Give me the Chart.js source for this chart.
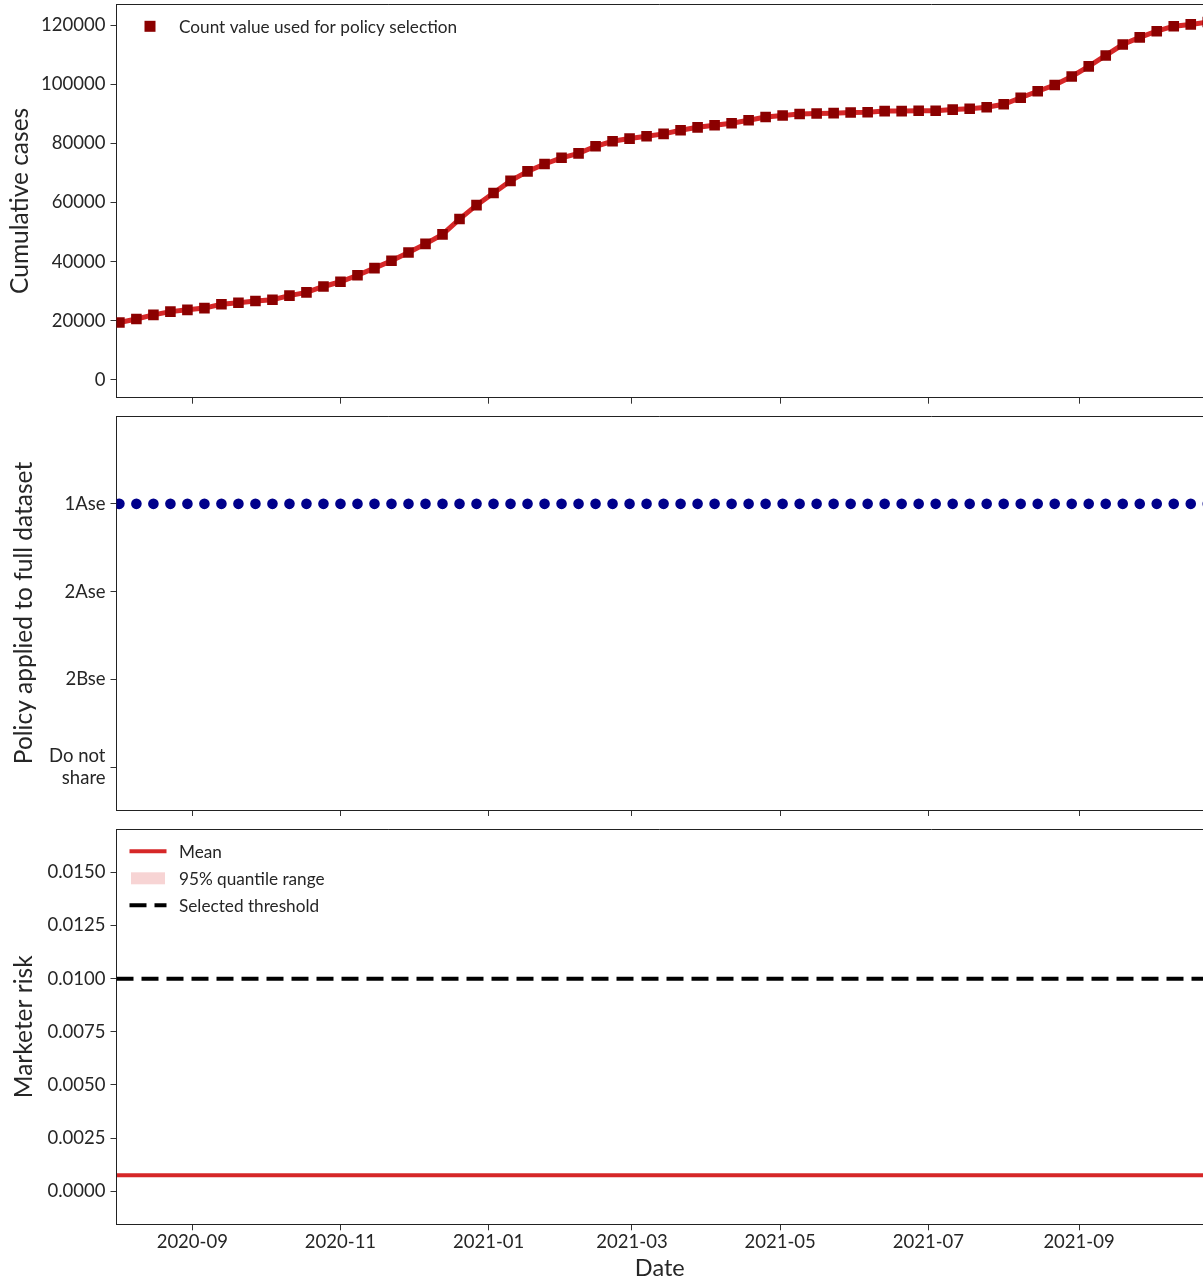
<!DOCTYPE html>
<html>
<head>
<meta charset="utf-8">
<title>Cumulative cases, applied policy and marketer risk</title>
<script src="https://cdn.jsdelivr.net/npm/chart.js@4.4.0/dist/chart.umd.min.js"></script>
<style>
  html, body { margin: 0; padding: 0; background: #ffffff; overflow: hidden; }
  .panel { position: absolute; left: 0; width: 1203px; }
  canvas { display: block; }
</style>
</head>
<body>
<div class="panel" style="top:0;height:412px"><canvas id="cases" width="1203" height="412"></canvas></div>
<div class="panel" style="top:412px;height:408px"><canvas id="policy" width="1203" height="408"></canvas></div>
<div class="panel" style="top:820px;height:463px"><canvas id="risk" width="1203" height="463"></canvas></div>
<script>
// ---- data ----------------------------------------------------------------
// Weekly evaluation dates
const weekDates = [
  '2020-08-02', '2020-08-09', '2020-08-16', '2020-08-23', '2020-08-30',
  '2020-09-06', '2020-09-13', '2020-09-20', '2020-09-27', '2020-10-04',
  '2020-10-11', '2020-10-18', '2020-10-25', '2020-11-01', '2020-11-08',
  '2020-11-15', '2020-11-22', '2020-11-29', '2020-12-06', '2020-12-13',
  '2020-12-20', '2020-12-27', '2021-01-03', '2021-01-10', '2021-01-17',
  '2021-01-24', '2021-01-31', '2021-02-07', '2021-02-14', '2021-02-21',
  '2021-02-28', '2021-03-07', '2021-03-14', '2021-03-21', '2021-03-28',
  '2021-04-04', '2021-04-11', '2021-04-18', '2021-04-25', '2021-05-02',
  '2021-05-09', '2021-05-16', '2021-05-23', '2021-05-30', '2021-06-06',
  '2021-06-13', '2021-06-20', '2021-06-27', '2021-07-04', '2021-07-11',
  '2021-07-18', '2021-07-25', '2021-08-01', '2021-08-08', '2021-08-15',
  '2021-08-22', '2021-08-29', '2021-09-05', '2021-09-12', '2021-09-19',
  '2021-09-26', '2021-10-03', '2021-10-10', '2021-10-17', '2021-10-24'
];

// Cumulative case count on each weekly date
const cumulativeCases = [
  19400, 20600, 22000, 23100, 23700, 24300, 25600, 26100, 26700, 27100,
  28500, 29600, 31600, 33200, 35400, 37800, 40300, 43100, 46000, 49200,
  54400, 59100, 63200, 67300, 70500, 73000, 75100, 76600, 79000, 80700,
  81600, 82400, 83200, 84400, 85400, 86100, 86800, 87800, 88900, 89400,
  89900, 90100, 90200, 90400, 90500, 90900, 90900, 91000, 91000, 91400,
  91700, 92200, 93200, 95400, 97600, 99700, 102600, 106000, 109700, 113400,
  115800, 117900, 119600, 120200, 121000
];

// Policy chosen for the full dataset on each weekly date
const appliedPolicy = [
  '1Ase', '1Ase', '1Ase', '1Ase', '1Ase', '1Ase', '1Ase', '1Ase', '1Ase', '1Ase',
  '1Ase', '1Ase', '1Ase', '1Ase', '1Ase', '1Ase', '1Ase', '1Ase', '1Ase', '1Ase',
  '1Ase', '1Ase', '1Ase', '1Ase', '1Ase', '1Ase', '1Ase', '1Ase', '1Ase', '1Ase',
  '1Ase', '1Ase', '1Ase', '1Ase', '1Ase', '1Ase', '1Ase', '1Ase', '1Ase', '1Ase',
  '1Ase', '1Ase', '1Ase', '1Ase', '1Ase', '1Ase', '1Ase', '1Ase', '1Ase', '1Ase',
  '1Ase', '1Ase', '1Ase', '1Ase', '1Ase', '1Ase', '1Ase', '1Ase', '1Ase', '1Ase',
  '1Ase', '1Ase', '1Ase', '1Ase', '1Ase'
];

// Policy levels, bottom to top
const policyLevels = ['Do not share', '2Bse', '2Ase', '1Ase'];

// Marketer risk: mean and 95% quantile range, plus the selected threshold
const riskDates = ['2020-08-01', '2021-10-24'];
const riskMean  = [0.00075, 0.00075];
const riskLow   = [0.00070, 0.00070];
const riskHigh  = [0.00080, 0.00080];
const riskThreshold = 0.01;

// Tick labels
const monthTicks = ['2020-09-01', '2020-11-01', '2021-01-01', '2021-03-01',
                    '2021-05-01', '2021-07-01', '2021-09-01'];
const caseTicks = [0, 20000, 40000, 60000, 80000, 100000, 120000];
const riskTicks = [0, 0.0025, 0.005, 0.0075, 0.01, 0.0125, 0.015];

// Visible date window
const axisStart = '2020-07-31T19:20:00';
const axisEnd   = '2021-10-22T01:00:00';

// ---- helpers ---------------------------------------------------------------
const FONT = 'Lato, "Open Sans", sans-serif';
const INK = '#262626';
const TICK_SIZE = 18.5;
const TITLE_SIZE = 24.5;
const LEGEND_SIZE = 17.2;
const toTime = s => Date.parse(s.length === 10 ? s + 'T00:00:00Z' : s + 'Z');
const pad2 = n => String(n).padStart(2, '0');
const monthLabel = v => { const d = new Date(v); return d.getUTCFullYear() + '-' + pad2(d.getUTCMonth() + 1); };

const AXIS_WIDTH = 116.5;

// keep the plotting area exactly where the axis boxes put it
function noScalePadding(ax) {
  ax.paddingTop = 0; ax.paddingBottom = 0; ax.paddingLeft = 0; ax.paddingRight = 0;
}

function dateAxis(showLabels, height) {
  return {
    type: 'linear',
    position: 'bottom',
    min: toTime(axisStart),
    max: toTime(axisEnd),
    afterBuildTicks: ax => { ax.ticks = monthTicks.map(d => ({ value: toTime(d) })); },
    afterFit: ax => { ax.height = height; noScalePadding(ax); },
    ticks: {
      display: showLabels,
      autoSkip: false,
      maxRotation: 0,
      padding: 1,
      color: INK,
      font: { family: FONT, size: TICK_SIZE },
      callback: v => monthLabel(v)
    },
    grid: { display: true, drawOnChartArea: false, drawTicks: true, tickLength: 6, tickColor: '#333', tickWidth: 1 },
    border: { display: true, color: '#222', width: 1 },
    title: {
      display: showLabels,
      text: 'Date',
      color: INK,
      font: { family: FONT, size: 23.5 },
      padding: 0
    }
  };
}

function valueAxis({ min, max, ticks, format, title, titlePad }) {
  return {
    type: 'linear',
    position: 'left',
    min, max,
    afterBuildTicks: ax => { ax.ticks = ticks.map(v => ({ value: v })); },
    afterFit: ax => { ax.width = AXIS_WIDTH; noScalePadding(ax); },
    ticks: { autoSkip: false, padding: 5, color: INK, font: { family: FONT, size: TICK_SIZE }, callback: format },
    grid: { display: true, drawOnChartArea: false, drawTicks: true, tickLength: 6, tickColor: '#333', tickWidth: 1 },
    border: { display: true, color: '#222', width: 1 },
    title: {
      display: true,
      text: title,
      color: INK,
      font: { family: FONT, size: TITLE_SIZE },
      padding: { top: titlePad, bottom: 0 }
    }
  };
}

// Top edge of each panel frame
const frameTop = {
  id: 'frameTop',
  afterDraw(chart) {
    const { ctx, chartArea } = chart;
    ctx.save();
    ctx.strokeStyle = '#222';
    ctx.lineWidth = 1;
    ctx.beginPath();
    const y = Math.floor(chartArea.top) + 0.5;
    ctx.moveTo(chartArea.left, y);
    ctx.lineTo(chartArea.right, y);
    ctx.stroke();
    ctx.restore();
  }
};

// Legend drawn inside the plotting area (upper left)
const insetLegend = {
  id: 'insetLegend',
  afterDraw(chart, args, opts) {
    if (!opts || !opts.items) return;
    const { ctx, chartArea } = chart;
    ctx.save();
    ctx.font = LEGEND_SIZE + 'px ' + FONT;
    ctx.textBaseline = 'middle';
    ctx.textAlign = 'left';
    opts.items.forEach((it, k) => {
      const y = chartArea.top + opts.top + k * opts.rowGap;
      const x0 = chartArea.left + opts.left;
      const w = opts.sampleWidth;
      if (it.kind === 'square') {
        ctx.fillStyle = it.color;
        ctx.fillRect(x0 + w / 2 - it.size / 2, y - it.size / 2, it.size, it.size);
      } else if (it.kind === 'line') {
        ctx.strokeStyle = it.color;
        ctx.lineWidth = it.width;
        ctx.setLineDash(it.dash || []);
        ctx.beginPath();
        ctx.moveTo(x0, y);
        ctx.lineTo(x0 + w, y);
        ctx.stroke();
        ctx.setLineDash([]);
      } else if (it.kind === 'band') {
        ctx.fillStyle = it.color;
        ctx.fillRect(x0 + 1.5, y - 6, w - 3, 12);
      }
      ctx.fillStyle = INK;
      ctx.fillText(it.text, chartArea.left + opts.textLeft, y + 1);
    });
    ctx.restore();
  }
};

const baseOptions = {
  responsive: false,
  animation: false,
  events: [],
  plugins: { legend: { display: false }, tooltip: { enabled: false } }
};

// ---- panel 1: cumulative cases ---------------------------------------------
const casePoints = weekDates.map((d, i) => ({ x: toTime(d), y: cumulativeCases[i] }));

new Chart(document.getElementById('cases'), {
  type: 'scatter',
  data: {
    datasets: [
      {
        label: 'Count value used for policy selection',
        data: casePoints,
        showLine: false,
        pointStyle: 'rect',
        pointRadius: 7.5,
        pointBorderWidth: 0,
        pointBackgroundColor: '#8b0000',
        clip: 0,
        order: 0
      },
      {
        label: 'Cumulative cases',
        data: casePoints,
        showLine: true,
        borderColor: '#d62728',
        borderWidth: 5,
        pointRadius: 0,
        tension: 0,
        clip: 0,
        order: 1
      }
    ]
  },
  options: {
    ...baseOptions,
    layout: { autoPadding: false, padding: { top: 4, left: 0, right: 0, bottom: 0 } },
    scales: {
      x: dateAxis(false, 14.3),
      y: valueAxis({ min: -6000, max: 127100, ticks: caseTicks, format: v => String(v), title: 'Cumulative cases', titlePad: 5 })
    },
    plugins: {
      ...baseOptions.plugins,
      insetLegend: {
        top: 22.3, left: 16, rowGap: 0, sampleWidth: 35, textLeft: 62.5,
        items: [{ kind: 'square', color: '#8b0000', size: 11, text: 'Count value used for policy selection' }]
      }
    }
  },
  plugins: [frameTop, insetLegend]
});

// ---- panel 2: applied policy -----------------------------------------------
const policyPoints = weekDates.map((d, i) => ({ x: toTime(d), y: policyLevels.indexOf(appliedPolicy[i]) }));

new Chart(document.getElementById('policy'), {
  type: 'scatter',
  data: {
    datasets: [{
      label: 'Policy applied to full dataset',
      data: policyPoints,
      pointStyle: 'circle',
      pointRadius: 5.3,
      pointBorderWidth: 0,
      pointBackgroundColor: '#00008b',
      clip: 0
    }]
  },
  options: {
    ...baseOptions,
    layout: { autoPadding: false, padding: { top: 4, left: 0, right: 0, bottom: 0 } },
    scales: {
      x: dateAxis(false, 10),
      y: valueAxis({
        min: -0.486, max: 4.0,
        ticks: [0, 1, 2, 3],
        format: v => { const s = policyLevels[v]; return s === 'Do not share' ? ['Do not', 'share'] : s; },
        title: 'Policy applied to full dataset',
        titlePad: 9.5
      })
    }
  },
  plugins: [frameTop]
});

// ---- panel 3: marketer risk ------------------------------------------------
const riskPts = arr => riskDates.map((d, i) => ({ x: toTime(d), y: arr[i] }));
const thresholdPts = [
  { x: toTime(axisStart), y: riskThreshold },
  { x: toTime(axisEnd), y: riskThreshold }
];

new Chart(document.getElementById('risk'), {
  type: 'scatter',
  data: {
    datasets: [
      {
        label: '95% quantile range',
        data: riskPts(riskHigh),
        showLine: true,
        borderWidth: 0,
        pointRadius: 0,
        backgroundColor: 'rgba(214, 39, 40, 0.2)',
        fill: '+1',
        clip: 0,
        order: 3
      },
      {
        label: 'lower quantile',
        data: riskPts(riskLow),
        showLine: true,
        borderWidth: 0,
        pointRadius: 0,
        fill: false,
        clip: 0,
        order: 3
      },
      {
        label: 'Mean',
        data: riskPts(riskMean),
        showLine: true,
        borderColor: '#d62728',
        borderWidth: 4,
        pointRadius: 0,
        clip: 0,
        order: 2
      },
      {
        label: 'Selected threshold',
        data: thresholdPts,
        showLine: true,
        borderColor: '#000000',
        borderWidth: 4,
        borderDash: [17, 8],
        borderCapStyle: 'butt',
        pointRadius: 0,
        clip: 0,
        order: 1
      }
    ]
  },
  options: {
    ...baseOptions,
    layout: { autoPadding: false, padding: { top: 9.3, left: 0, right: 0, bottom: 0 } },
    scales: {
      x: dateAxis(true, 58.7),
      y: valueAxis({ min: -0.001552, max: 0.017022, ticks: riskTicks, format: v => v.toFixed(4), title: 'Marketer risk', titlePad: 9.5 })
    },
    plugins: {
      ...baseOptions.plugins,
      insetLegend: {
        top: 22, left: 13, rowGap: 27, sampleWidth: 37, textLeft: 62.5,
        items: [
          { kind: 'line', color: '#d62728', width: 4, text: 'Mean' },
          { kind: 'band', color: 'rgba(214, 39, 40, 0.2)', text: '95% quantile range' },
          { kind: 'line', color: '#000000', width: 4, dash: [17, 8], text: 'Selected threshold' }
        ]
      }
    }
  },
  plugins: [frameTop, insetLegend]
});
</script>
</body>
</html>
